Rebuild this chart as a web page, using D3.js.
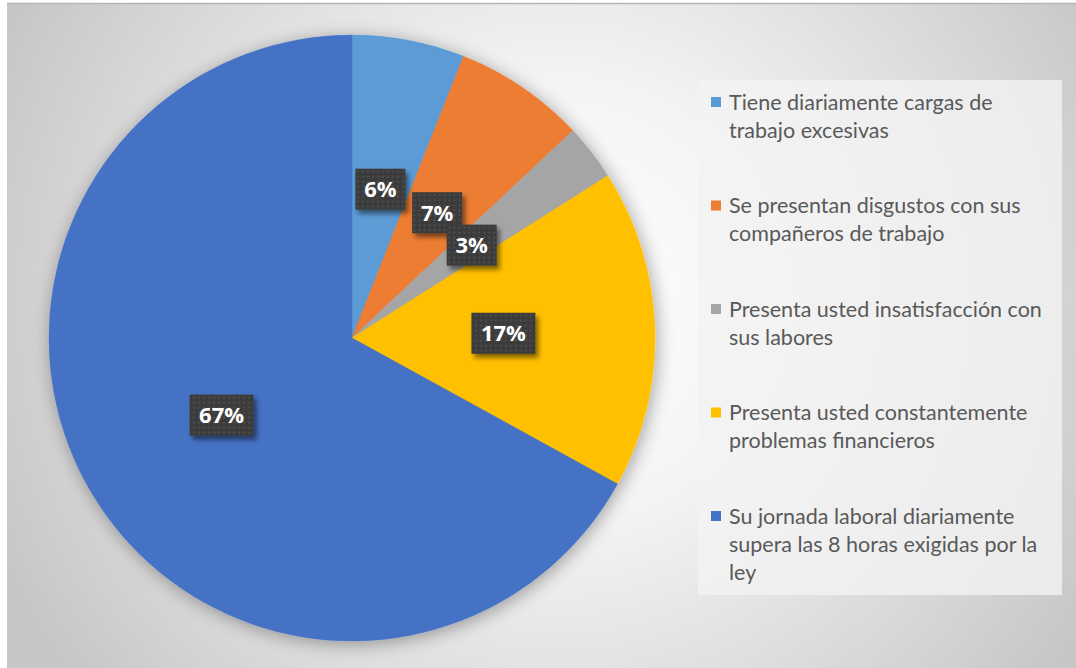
<!DOCTYPE html>
<html>
<head>
<meta charset="utf-8">
<script src="https://cdn.jsdelivr.net/npm/d3@7"></script>
<style>
  html, body { margin: 0; padding: 0; background: #ffffff; }
  svg { display: block; }
</style>
</head>
<body>
<svg id="chart" width="1076" height="668"></svg>
<script>
// Survey answers and their share of responses (percent)
const categories = [
  "Tiene diariamente cargas de trabajo excesivas",
  "Se presentan disgustos con sus compañeros de trabajo",
  "Presenta usted insatisfacción con sus labores",
  "Presenta usted constantemente problemas financieros",
  "Su jornada laboral diariamente supera las 8 horas exigidas por la ley"
];
const values = [6, 7, 3, 17, 67];
const legendLines = [
  ["Tiene diariamente cargas de", "trabajo excesivas"],
  ["Se presentan disgustos con sus", "compañeros de trabajo"],
  ["Presenta usted insatisfacción con", "sus labores"],
  ["Presenta usted constantemente", "problemas financieros"],
  ["Su jornada laboral diariamente", "supera las 8 horas exigidas por la", "ley"]
];
const colors = ["#5B9BD5", "#ED7D31", "#A5A5A5", "#FFC000", "#4472C4"];

const W = 1076, H = 668;
const svg = d3.select("#chart");
const defs = svg.append("defs");

// Chart area background: soft radial gradient
const bg = defs.append("radialGradient").attr("id", "bgGrad")
  .attr("gradientUnits", "userSpaceOnUse")
  .attr("cx", 560).attr("cy", 300).attr("r", 620);
bg.append("stop").attr("offset", "0%").attr("stop-color", "#ffffff");
bg.append("stop").attr("offset", "35%").attr("stop-color", "#f4f4f4");
bg.append("stop").attr("offset", "75%").attr("stop-color", "#d8d8d8");
bg.append("stop").attr("offset", "100%").attr("stop-color", "#c6c6c6");

// Dotted fill for data label boxes
const pat = defs.append("pattern").attr("id", "dots")
  .attr("patternUnits", "userSpaceOnUse").attr("width", 5).attr("height", 5);
pat.append("rect").attr("width", 5).attr("height", 5).attr("fill", "#3b3b3b");
pat.append("circle").attr("cx", 2.5).attr("cy", 2.5).attr("r", 1).attr("fill", "#555555");

// Shadows
const pieShadow = defs.append("filter").attr("id", "pieShadow")
  .attr("x", "-20%").attr("y", "-20%").attr("width", "140%").attr("height", "140%");
pieShadow.append("feGaussianBlur").attr("in", "SourceAlpha").attr("stdDeviation", 9).attr("result", "b");
pieShadow.append("feOffset").attr("in", "b").attr("dx", 2).attr("dy", 3).attr("result", "o");
pieShadow.append("feComponentTransfer").attr("in", "o").attr("result", "s")
  .append("feFuncA").attr("type", "linear").attr("slope", 0.35);
const pm = pieShadow.append("feMerge");
pm.append("feMergeNode").attr("in", "s");
pm.append("feMergeNode").attr("in", "SourceGraphic");

const boxShadow = defs.append("filter").attr("id", "boxShadow")
  .attr("x", "-30%").attr("y", "-30%").attr("width", "170%").attr("height", "170%");
boxShadow.append("feGaussianBlur").attr("in", "SourceAlpha").attr("stdDeviation", 2.5).attr("result", "b");
boxShadow.append("feOffset").attr("in", "b").attr("dx", 3).attr("dy", 4).attr("result", "o");
boxShadow.append("feComponentTransfer").attr("in", "o").attr("result", "s")
  .append("feFuncA").attr("type", "linear").attr("slope", 0.5);
const bm = boxShadow.append("feMerge");
bm.append("feMergeNode").attr("in", "s");
bm.append("feMergeNode").attr("in", "SourceGraphic");

// Chart area
svg.append("rect").attr("x", 7).attr("y", 3).attr("width", W - 7).attr("height", H - 3)
  .attr("fill", "url(#bgGrad)");
svg.append("line").attr("x1", 7).attr("x2", W).attr("y1", 3.5).attr("y2", 3.5)
  .attr("stroke", "#b4b4b4").attr("stroke-width", 1.5);

// Pie
const cx = 352, cy = 338, R = 303;
const pie = d3.pie().sort(null).value(d => d)(values);
const arc = d3.arc().innerRadius(0).outerRadius(R);
const labelArc = d3.arc().innerRadius(R * 0.5).outerRadius(R * 0.5);

const g = svg.append("g").attr("transform", `translate(${cx},${cy})`);
g.append("g").attr("filter", "url(#pieShadow)")
  .selectAll("path").data(pie).join("path")
  .attr("d", arc)
  .attr("fill", (d, i) => colors[i])
  .attr("stroke", (d, i) => colors[i])
  .attr("stroke-width", 0.5);

// Data labels
const lbl = g.selectAll("g.lbl").data(pie).join("g").attr("class", "lbl")
  .attr("transform", d => `translate(${labelArc.centroid(d)})`);
lbl.each(function (d) {
  const t = d3.format(".0f")(d.data) + "%";
  const sel = d3.select(this);
  const w = t.length === 2 ? 50 : 64, h = 41;
  sel.append("rect").attr("x", -w / 2).attr("y", -h / 2).attr("width", w).attr("height", h)
    .attr("fill", "url(#dots)").attr("filter", "url(#boxShadow)");
  sel.append("text").text(t)
    .attr("text-anchor", "middle").attr("dy", "0.36em")
    .attr("font-family", "'Open Sans', sans-serif").attr("font-weight", 700)
    .attr("font-size", 22).attr("fill", "#ffffff");
});

// Legend
const legend = svg.append("g");
legend.append("rect").attr("x", 698).attr("y", 80).attr("width", 364).attr("height", 515)
  .attr("fill", "#f2f2f2").attr("fill-opacity", 0.8);
const itemY = d3.scaleLinear().domain([0, 4]).range([102, 516]);
const items = legend.selectAll("g.item").data(categories).join("g").attr("class", "item")
  .attr("transform", (d, i) => `translate(711,${itemY(i)})`);
items.append("rect").attr("x", 0).attr("y", -5).attr("width", 10).attr("height", 10)
  .attr("fill", (d, i) => colors[i]);
items.each(function (d, i) {
  const t = d3.select(this).append("text")
    .attr("font-family", "Lato, sans-serif").attr("font-size", 21.5).attr("fill", "#595959");
  legendLines[i].forEach((line, k) => {
    t.append("tspan").attr("x", 18).attr("y", k * 28).attr("dy", "0.35em").text(line);
  });
});
</script>
</body>
</html>
